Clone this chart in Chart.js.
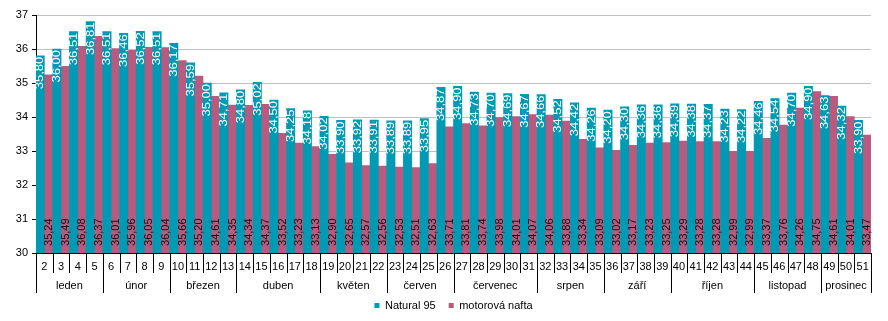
<!DOCTYPE html>
<html><head><meta charset="utf-8">
<script src="https://cdn.jsdelivr.net/npm/chart.js@4/dist/chart.umd.min.js"></script>
<style>html,body{margin:0;padding:0;background:#fff}canvas{display:block}</style>
</head><body>
<canvas id="c" width="888" height="321"></canvas>
<script>
const weeks = ['2','3','4','5','6','7','8','9','10','11','12','13','14','15','16','17','18','19','20','21','22','23','24','25','26','27','28','29','30','31','32','33','34','35','36','37','38','39','40','41','42','43','44','45','46','47','48','49','50','51'];
const natural95 = [35.80,36.00,36.51,36.81,36.51,36.46,36.52,36.51,36.17,35.59,35.00,34.71,34.80,35.02,34.50,34.25,34.18,34.02,33.90,33.92,33.91,33.89,33.89,33.95,34.87,34.90,34.73,34.70,34.69,34.67,34.66,34.52,34.42,34.26,34.20,34.30,34.36,34.36,34.39,34.38,34.37,34.23,34.22,34.46,34.54,34.70,34.90,34.63,34.32,33.90];
const nafta = [35.24,35.49,36.08,36.37,36.01,35.96,36.05,36.04,35.66,35.20,34.61,34.35,34.34,34.37,33.52,33.23,33.13,32.90,32.65,32.57,32.56,32.53,32.51,32.63,33.71,33.81,33.74,33.98,34.01,34.07,34.06,33.88,33.34,33.09,33.02,33.17,33.23,33.25,33.29,33.28,33.28,32.99,32.99,33.37,33.76,34.26,34.75,34.61,34.01,33.47];
const months = ['leden','únor','březen','duben','květen','červen','červenec','srpen','září','říjen','listopad','prosinec'];
const monthSpans = [4,4,4,5,4,4,5,4,4,5,4,3];
const seriesNames = ['Natural 95','motorová nafta'];
const seriesColors = ['#009AB5','#BA5A7E'];

const FONT = "'Liberation Sans', Arial, sans-serif";
Chart.defaults.font.family = FONT;
Chart.defaults.font.size = 11;
Chart.defaults.color = '#000';

const fmt = v => v.toFixed(2).replace('.', ',');

const labelPlugin = {
  id: 'customLabels',
  afterDatasetsDraw(chart){
    const ctx = chart.ctx, area = chart.chartArea;
    const m0 = chart.getDatasetMeta(0), m1 = chart.getDatasetMeta(1);
    ctx.save();
    ctx.textBaseline = 'middle';
    m0.data.forEach((bar,i)=>{
      ctx.save();
      ctx.translate(bar.x + 0.5, bar.y + 1);
      ctx.rotate(-Math.PI/2);
      ctx.scale(1.3, 1);
      ctx.font = '10px ' + FONT;
      ctx.fillStyle = '#fff';
      ctx.textAlign = 'right';
      ctx.fillText(fmt(natural95[i]), 0, 0);
      ctx.restore();
    });
    m1.data.forEach((bar,i)=>{
      ctx.save();
      ctx.translate(bar.x + 0.5, area.bottom - 7);
      ctx.rotate(-Math.PI/2);
      ctx.scale(1.05, 1);
      ctx.font = '10.5px ' + FONT;
      ctx.fillStyle = '#111';
      ctx.textAlign = 'left';
      ctx.fillText(fmt(nafta[i]), 0, 0);
      ctx.restore();
    });
    ctx.restore();
  },
  afterDraw(chart){
    const ctx = chart.ctx, xs = chart.scales.x, area = chart.chartArea;
    const n = weeks.length, w = (xs.right - xs.left) / n;
    const by = Math.round(area.bottom) + 0.5;
    ctx.save();
    ctx.strokeStyle = '#000'; ctx.lineWidth = 1;
    ctx.beginPath();
    ctx.moveTo(xs.left, by); ctx.lineTo(xs.right, by);
    for (let i = 0; i <= n; i++){
      const x = Math.round(xs.left + i*w) + 0.5;
      ctx.moveTo(x, area.bottom); ctx.lineTo(x, area.bottom + 20);
    }
    let idx = 0;
    monthSpans.forEach(s => {
      const x = Math.round(xs.left + idx*w) + 0.5;
      ctx.moveTo(x, area.bottom); ctx.lineTo(x, area.bottom + 40);
      idx += s;
    });
    const xe = Math.round(xs.left + n*w) + 0.5;
    ctx.moveTo(xe, area.bottom); ctx.lineTo(xe, area.bottom + 40);
    ctx.stroke();
    ctx.fillStyle = '#000'; ctx.font = '11px ' + FONT;
    ctx.textAlign = 'center'; ctx.textBaseline = 'middle';
    weeks.forEach((wk,i) => ctx.fillText(wk, xs.left + (i + 0.5)*w, area.bottom + 14));
    idx = 0;
    months.forEach((mn,k) => {
      const cx = xs.left + (idx + monthSpans[k]/2)*w;
      ctx.fillText(mn, cx, area.bottom + 33);
      idx += monthSpans[k];
    });
    ctx.restore();
  }
};

new Chart(document.getElementById('c'), {
  type: 'bar',
  data: {
    labels: weeks,
    datasets: [
      {label: seriesNames[0], data: natural95, backgroundColor: seriesColors[0], categoryPercentage: 1, barPercentage: 1},
      {label: seriesNames[1], data: nafta, backgroundColor: seriesColors[1], categoryPercentage: 1, barPercentage: 1}
    ]
  },
  options: {
    responsive: false,
    animation: false,
    layout: {padding: {top: 15, right: 17, left: 0, bottom: 0}},
    scales: {
      x: {
        ticks: {display: false},
        grid: {display: false},
        border: {display: false},
        afterFit(scale){ scale.height = 34; }
      },
      y: {
        min: 30, max: 37,
        ticks: {stepSize: 1, padding: 4, color: '#000', font: {size: 11}},
        grid: {color: '#c0c0c0', tickColor: '#000', tickLength: 4},
        border: {display: true, color: '#000'},
        afterFit(scale){ scale.width = 36; }
      }
    },
    plugins: {
      tooltip: {enabled: false},
      legend: {
        position: 'bottom',
        fullSize: false,
        labels: {
          boxWidth: 5,
          boxHeight: 5,
          padding: 13,
          color: '#000',
          font: {size: 11}
        }
      }
    }
  },
  plugins: [labelPlugin]
});
</script>
</body></html>
